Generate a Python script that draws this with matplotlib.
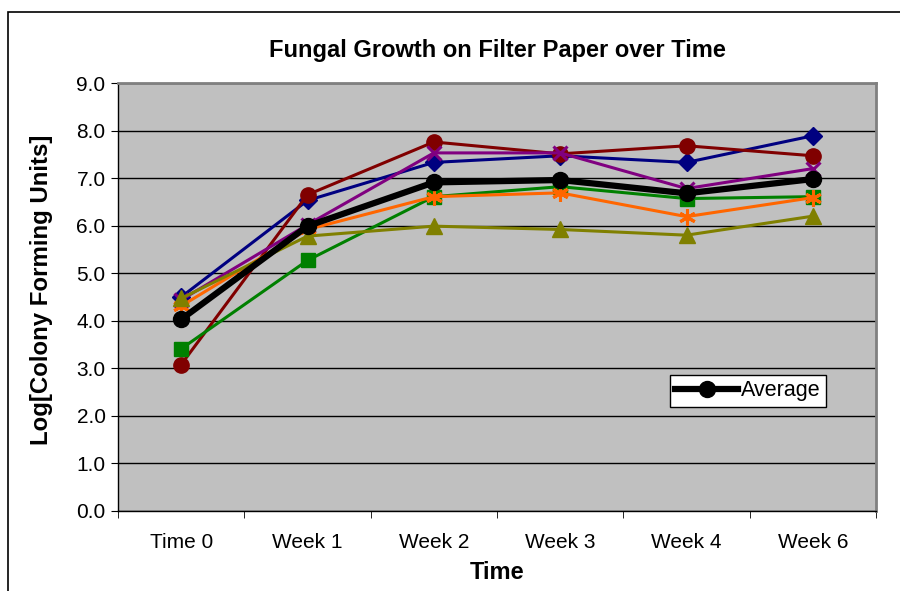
import matplotlib
matplotlib.use("Agg")
import matplotlib.pyplot as plt
from matplotlib.patches import Rectangle

categories = ["Time 0", "Week 1", "Week 2", "Week 3", "Week 4", "Week 6"]
navy_diamond = [4.50, 6.53, 7.33, 7.47, 7.33, 7.89]
darkred_circle = [3.08, 6.65, 7.76, 7.51, 7.68, 7.47]
purple_x = [4.44, 6.02, 7.53, 7.53, 6.78, 7.20]
green_square = [3.41, 5.27, 6.61, 6.82, 6.57, 6.61]
orange_star = [4.31, 5.92, 6.61, 6.69, 6.19, 6.59]
olive_triangle = [4.47, 5.78, 5.99, 5.92, 5.80, 6.20]
average = [4.03, 5.99, 6.91, 6.96, 6.68, 6.98]
yticks = [0, 1, 2, 3, 4, 5, 6, 7, 8, 9]

plt.rcParams['font.family'] = ['Liberation Sans', 'DejaVu Sans']

fig = plt.figure(figsize=(9, 5.91), dpi=100)
# outer chart border
fig.patches.append(Rectangle((8/900, -0.1), 1.2, 1 - 12/591 + 0.1, transform=fig.transFigure,
                             fill=False, edgecolor='black', linewidth=1.2))

ax = fig.add_axes([118/900, 1 - 511/591, (876-118)/900, (511-83)/591])
ax.set_facecolor('#C0C0C0')
x = list(range(len(categories)))

series = [
    (navy_diamond, '#000080', 'D', 9, {}),
    (darkred_circle, '#800000', 'o', 11, {}),
    (purple_x, '#800080', 'x', 10, {'markeredgewidth': 2.2}),
    (green_square, '#008000', 's', 10, {}),
    (orange_star, '#FF6600', (6, 2, 0), 12, {'markeredgewidth': 2.2}),
    (olive_triangle, '#808000', '^', 11, {}),
]
for vals, c, m, ms, kw in series:
    ax.plot(x, vals, color=c, marker=m, markersize=ms, linewidth=2.2,
            markerfacecolor=c, markeredgecolor=c, zorder=3, **kw)
ax.plot(x, average, color='black', marker='o', markersize=11.5, linewidth=4.5,
        zorder=4, label='Average')

ax.set_xlim(-0.5, len(categories) - 0.5)
ax.set_ylim(0, 9)
ax.set_yticks(yticks)
ax.set_yticklabels([f"{v:.1f}" for v in yticks], fontsize=15)
ax.yaxis.grid(True, color='black', linewidth=1)
ax.set_axisbelow(True)
ax.set_xticks(x)
ax.set_xticklabels(categories, fontsize=15)
ax.tick_params(axis='x', length=0, pad=16)
ax.set_xticks([i - 0.5 for i in range(len(categories) + 1)], minor=True)
ax.tick_params(axis='x', which='minor', length=5, direction='out')
ax.tick_params(axis='y', length=5, direction='out', pad=4)

for s in ['top', 'right']:
    ax.spines[s].set_color('#808080')
    ax.spines[s].set_linewidth(2)
for s in ['left', 'bottom']:
    ax.spines[s].set_color('black')
    ax.spines[s].set_linewidth(1)

ax.set_xlabel("Time", fontsize=17, fontweight='bold', labelpad=6)
ax.set_ylabel("Log[Colony Forming Units]", fontsize=17.3, fontweight='bold')
ax.yaxis.set_label_coords(-65/758, (511-290)/428)
ax.set_title("Fungal Growth on Filter Paper over Time", fontsize=17, fontweight='bold', pad=19)

leg = ax.legend(loc='upper left', bbox_to_anchor=(552/758, 1 - (375-83)/428),
                fontsize=15.5, frameon=True, fancybox=False, edgecolor='black',
                framealpha=1, handlelength=2.9, borderpad=0.25, handletextpad=0.15,
                borderaxespad=0)
leg.get_frame().set_linewidth(1)

fig.savefig("out.png", dpi=100)
